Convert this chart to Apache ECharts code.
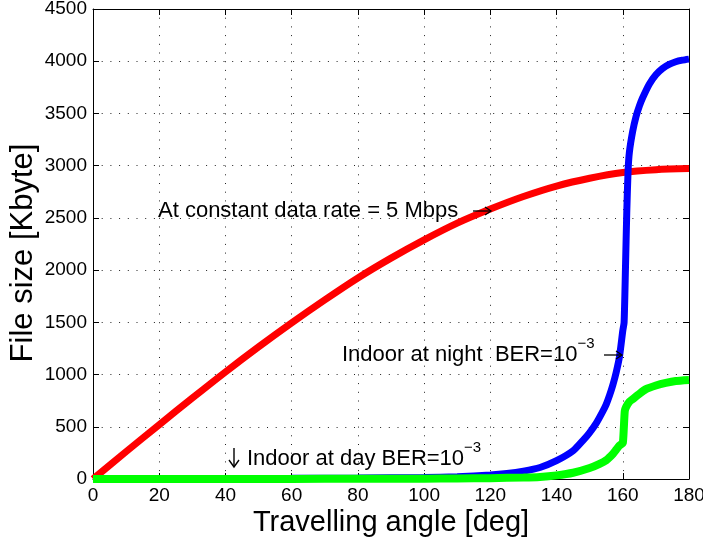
<!DOCTYPE html>
<html>
<head>
<meta charset="utf-8">
<script src="https://cdn.jsdelivr.net/npm/echarts@6/dist/echarts.min.js"></script>
<style>
html,body{margin:0;padding:0;background:#fff;}
#c{width:703px;height:543px;}
</style>
</head>
<body>
<div id="c"></div>
<script>
// ---- data ----
var xTicks = [0, 20, 40, 60, 80, 100, 120, 140, 160, 180];
var yTicks = [0, 500, 1000, 1500, 2000, 2500, 3000, 3500, 4000, 4500];

var redX = [0, 10, 20, 30, 40, 50, 60, 70, 80, 90, 100, 110, 120, 130, 140, 150, 160, 170, 180];
var redY = [0, 262, 520, 775, 1025, 1265, 1495, 1715, 1925, 2115, 2290, 2450, 2585, 2705, 2805, 2880, 2935, 2962, 2972];

var blueX = [0, 20, 40, 60, 80, 100, 110, 120, 125, 130, 135, 140, 145, 148, 150, 152, 154, 155, 156, 157, 158, 159, 160, 160.4, 160.8, 161.2, 161.6, 162, 163, 164, 165, 166, 168, 170, 172, 174, 176, 178, 180];
var blueY = [0, 2, 4, 6, 9, 14, 22, 38, 52, 75, 110, 175, 270, 370, 445, 535, 650, 715, 800, 900, 1020, 1170, 1420, 1500, 2000, 2550, 2950, 3130, 3330, 3470, 3570, 3650, 3780, 3870, 3930, 3970, 3995, 4010, 4020];

var greenX = [0, 20, 40, 60, 80, 100, 110, 120, 130, 135, 140, 145, 150, 153, 155, 157, 158, 159, 160, 160.3, 160.6, 161, 162, 163, 165, 167, 170, 173, 176, 180];
var greenY = [0, 0, 0, 1, 2, 3, 5, 8, 14, 20, 35, 60, 105, 145, 180, 240, 280, 320, 345, 480, 650, 690, 740, 765, 815, 860, 895, 920, 938, 948];

var xName = 'Travelling angle [deg]';
var yName = 'File size [Kbyte]';

function pairs(xs, ys) { return xs.map(function (x, i) { return [x, ys[i]]; }); }

var FONT = '"Liberation Sans", Arial, Helvetica, sans-serif';
var chart = echarts.init(document.getElementById('c'), null, {renderer: 'canvas'});

var gridStyle = {show: true, lineStyle: {color: '#222', width: 1, type: [1, 7.7]}};

var option = {
  backgroundColor: '#fff',
  animation: false,
  grid: {left: 93, right: 14, top: 9, bottom: 64, containLabel: false, outerBoundsMode: 'none'},
  xAxis: [{
    type: 'value', min: 0, max: 180, interval: 20, position: 'bottom',
    name: xName, nameLocation: 'middle', nameGap: 29, nameMoveOverlap: false,
    nameTextStyle: {fontFamily: FONT, fontSize: 29, color: '#000'},
    axisLine: {show: true, onZero: false, lineStyle: {color: '#000', width: 1}},
    axisTick: {show: true, inside: true, length: 6, lineStyle: {color: '#000'}},
    axisLabel: {margin: 7, fontFamily: FONT, fontSize: 19, color: '#000',
      formatter: function (v) { return xTicks.indexOf(v) >= 0 ? String(v) : ''; }},
    splitLine: gridStyle
  }, {
    type: 'value', min: 0, max: 180, interval: 20, position: 'top',
    axisLine: {show: true, onZero: false, lineStyle: {color: '#000', width: 1}},
    axisTick: {show: true, inside: true, length: 6, lineStyle: {color: '#000'}},
    axisLabel: {show: false}, splitLine: {show: false}
  }],
  yAxis: [{
    type: 'value', min: 0, max: 4500, interval: 500, position: 'left',
    name: yName, nameLocation: 'middle', nameGap: 54, nameRotate: 90, nameMoveOverlap: false,
    nameTextStyle: {fontFamily: FONT, fontSize: 31, color: '#000', padding: [0, 18, 0, 0]},
    axisLine: {show: true, onZero: false, lineStyle: {color: '#000', width: 1}},
    axisTick: {show: true, inside: true, length: 6, lineStyle: {color: '#000'}},
    axisLabel: {margin: 6, fontFamily: FONT, fontSize: 19, color: '#000',
      formatter: function (v) { return yTicks.indexOf(v) >= 0 ? String(v) : ''; }},
    splitLine: gridStyle
  }, {
    type: 'value', min: 0, max: 4500, interval: 500, position: 'right',
    axisLine: {show: true, onZero: false, lineStyle: {color: '#000', width: 1}},
    axisTick: {show: true, inside: true, length: 6, lineStyle: {color: '#000'}},
    axisLabel: {show: false}, splitLine: {show: false}
  }],
  series: [{
    type: 'line', data: pairs(redX, redY), smooth: 0.3, showSymbol: false,
    lineStyle: {color: '#ff0000', width: 7}, z: 3
  }, {
    type: 'line', data: pairs(blueX, blueY), smooth: 0.2, showSymbol: false,
    lineStyle: {color: '#0000ff', width: 7}, z: 4
  }, {
    type: 'line', data: pairs(greenX, greenY), smooth: 0.15, showSymbol: false,
    lineStyle: {color: '#00ff00', width: 8}, z: 5
  }]
};
chart.setOption(option);

// ---- annotations ----
var rich = {
  n: {fontFamily: FONT, fontSize: 22, color: '#000'},
  s: {fontFamily: FONT, fontSize: 15, color: '#000', padding: [0, 0, 22, 0]}
};
function txt(x, y, t) {
  return {type: 'text', x: x, y: y, z: 100,
    style: {text: t, rich: rich, fill: '#000', font: '22px ' + FONT, verticalAlign: 'middle', align: 'left'}};
}
function arrow(x0, x1, y) {
  return {type: 'group', z: 100, children: [
    {type: 'line', z: 100, shape: {x1: x0, y1: y, x2: x1, y2: y}, style: {stroke: '#000', lineWidth: 1.3}},
    {type: 'polyline', z: 100, shape: {points: [[x1 - 6, y - 4], [x1, y], [x1 - 6, y + 4]]}, style: {stroke: '#000', lineWidth: 1.3, fill: null}}
  ]};
}
function downArrow(x, y0, y1) {
  return {type: 'group', z: 100, children: [
    {type: 'line', z: 100, shape: {x1: x, y1: y0, x2: x, y2: y1}, style: {stroke: '#000', lineWidth: 1.4}},
    {type: 'polyline', z: 100, shape: {points: [[x - 5, y1 - 7], [x, y1], [x + 5, y1 - 7]]}, style: {stroke: '#000', lineWidth: 1.4, fill: null}}
  ]};
}
chart.setOption({
  graphic: [
    txt(158, 211, '{n|At constant data rate = 5 Mbps}'),
    arrow(473, 491, 211),
    txt(342, 355, '{n|Indoor at night  BER=10}{s|\u22123}'),
    arrow(604, 622, 355),
    downArrow(234, 448, 467),
    txt(247, 459, '{n|Indoor at day BER=10}{s|\u22123}')
  ]
});
</script>
</body>
</html>
